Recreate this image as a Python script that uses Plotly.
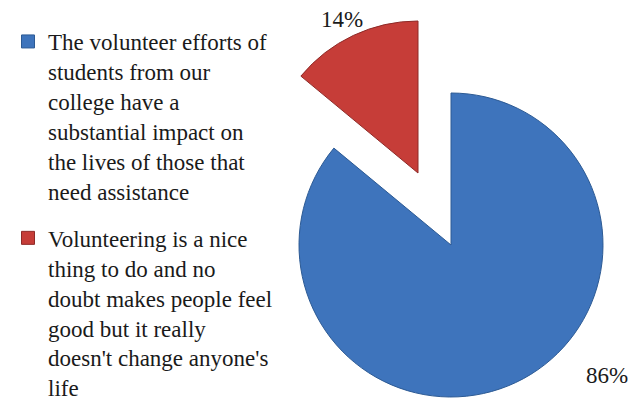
import plotly.graph_objects as go

labels = [
    "The volunteer efforts of<br>students from our<br>college have a<br>substantial impact on<br>the lives of those that<br>need assistance",
    "Volunteering is a nice<br>thing to do and no<br>doubt makes people feel<br>good but it really<br>doesn't change anyone's<br>life",
]
values = [86, 14]
colors = ["#3E74BC", "#C63D38"]
edge_colors = ["#2C5A94", "#8E2A27"]
CLEAR = "rgba(0,0,0,0)"
SERIF = "Liberation Serif, serif"

# the page body adds an 8px margin, so the figure is sized to fill the rest
W, H = 636, 396
R = 152
main_c = (443, 237)
pull_c = (410, 165)

def dom(c):
    return dict(x=[(c[0] - R) / W, (c[0] + R) / W],
                y=[1 - (c[1] + R) / H, 1 - (c[1] - R) / H])

fig = go.Figure()
# main pie: blue slice visible
fig.add_trace(go.Pie(
    labels=labels, values=values, sort=False, direction="clockwise", rotation=0,
    marker=dict(colors=[colors[0], CLEAR], line=dict(color=[edge_colors[0], CLEAR], width=[1, 0])),
    textinfo="none", hoverinfo="skip", showlegend=False, domain=dom(main_c)))
# exploded slice: red slice visible, displaced
fig.add_trace(go.Pie(
    labels=labels, values=values, sort=False, direction="clockwise", rotation=0,
    marker=dict(colors=[CLEAR, colors[1]], line=dict(color=[CLEAR, edge_colors[1]], width=[0, 1])),
    textinfo="none", hoverinfo="skip", showlegend=False, domain=dom(pull_c)))

# legend entries
for i, lab in enumerate(labels):
    fig.add_trace(go.Scatter(
        x=[None], y=[None], mode="markers", name=lab, legendgroup=f"g{i}",
        marker=dict(symbol="square", size=13, color=colors[i], line=dict(color=edge_colors[i], width=1))))

total = sum(values)
pct = [f"{round(v * 100 / total)}%" for v in values]
fig.add_annotation(x=599 / W, y=1 - 367 / H, xref="paper", yref="paper", text=pct[0],
                   xanchor="center", yanchor="middle",
                   showarrow=False, font=dict(size=23, family=SERIF, color="#1a1a1a"))
fig.add_annotation(x=334 / W, y=1 - 11 / H, xref="paper", yref="paper", text=pct[1],
                   xanchor="center", yanchor="middle",
                   showarrow=False, font=dict(size=23, family=SERIF, color="#1a1a1a"))

fig.update_layout(
    width=W, height=H, margin=dict(l=0, r=0, t=0, b=0, autoexpand=False),
    paper_bgcolor="white", plot_bgcolor="white",
    font=dict(family=SERIF, color="#1a1a1a"),
    xaxis=dict(visible=False), yaxis=dict(visible=False),
    showlegend=True,
    legend=dict(x=0, y=1 - 12 / H, xanchor="left", yanchor="top", valign="top",
                font=dict(family=SERIF, size=23, color="#1a1a1a"),
                traceorder="grouped", tracegroupgap=14, maxheight=800,
                bgcolor="rgba(0,0,0,0)"),
)
fig.write_html("out.html")
